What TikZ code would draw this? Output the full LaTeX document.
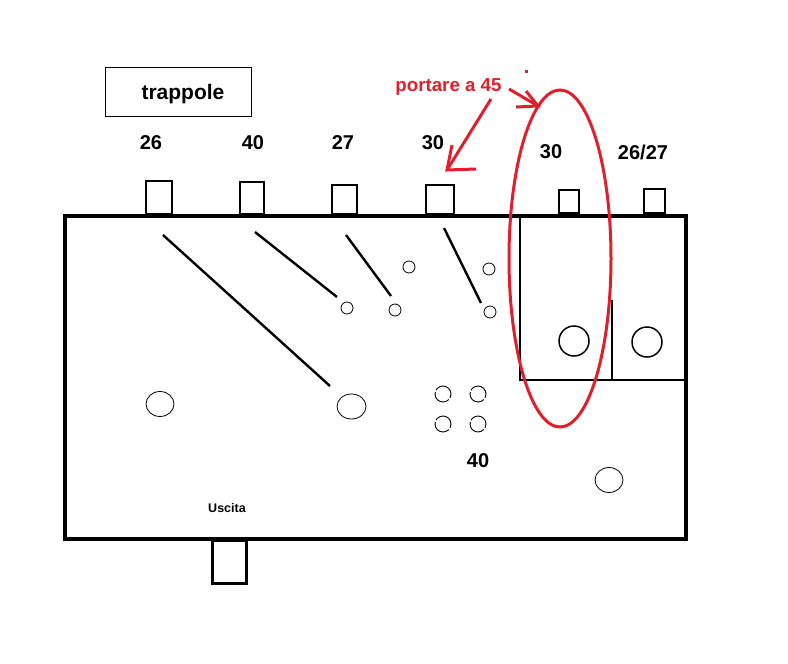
\documentclass[tikz,border=0pt]{standalone}
\usepackage{fontspec}
\setmainfont{Liberation Sans}
\usepackage{tikz}
\usetikzlibrary{shapes.geometric}
\definecolor{redmark}{RGB}{222,32,44}
\tikzset{
  tabbox/.style={draw, line width=2pt, inner sep=0pt, anchor=south},
  pinhole/.style={draw, circle, line width=0.8pt, inner sep=0pt, minimum size=12pt},
  hole/.style={draw, ellipse, line width=0.8pt, inner sep=0pt, minimum width=28pt, minimum height=25pt},
  socket/.style={draw, circle, line width=1.5pt, inner sep=0pt, minimum size=30pt},
  tube/.style={draw, circle, line width=0.9pt, dash pattern=on 21pt off 2pt, inner sep=0pt, minimum size=16pt},
  valtext/.style={font=\bfseries\fontsize{20}{20}\selectfont, inner sep=0pt},
  wire/.style={line width=2.4pt},
  redline/.style={draw=redmark, line width=3pt},
}
\begin{document}
\begin{tikzpicture}[x=1pt, y=-1pt]
      \useasboundingbox (0, 0) rectangle (788, 664);
      \node[draw, line width=4pt, inner sep=0pt, minimum width=621pt, minimum height=323pt] (chassis) at (375.5, 377.5) {};
      \node[draw, line width=1pt, inner sep=0pt, minimum width=146pt, minimum height=49pt] (legend) at (178, 91.5) {};
      \node[valtext, font=\bfseries\fontsize{21}{21}\selectfont] (trappole) at (183, 94) {trappole};
      % tabs on top
      \node[tabbox, minimum width=26pt, minimum height=33pt] (tab1) at (159, 215) {};
      \node[tabbox, minimum width=24pt, minimum height=32pt] (tab2) at (252, 215) {};
      \node[tabbox, minimum width=25pt, minimum height=29pt] (tab3) at (344.5, 215) {};
      \node[tabbox, minimum width=28pt, minimum height=29pt] (tab4) at (440, 215) {};
      \node[tabbox, minimum width=20pt, minimum height=23pt] (tab5) at (569, 214) {};
      \node[tabbox, minimum width=21pt, minimum height=24pt] (tab6) at (654.5, 214) {};
      \node[draw, line width=3pt, inner sep=0pt, minimum width=34pt, minimum height=43pt] (uscitabox) at (229, 562) {};
      \node[valtext] (val1) at (151, 143) {26};
      \node[valtext] (val2) at (253, 143) {40};
      \node[valtext] (val3) at (343, 143) {27};
      \node[valtext] (val4) at (433, 143) {30};
      \node[valtext] (val5) at (551, 152) {30};
      \node[valtext] (val6) at (643, 152) {26/27};
      \node[valtext] (val7) at (478, 461) {40};
      \node[font=\bfseries\fontsize{12.5}{12.5}\selectfont, inner sep=0pt] (uscita) at (227, 508) {Uscita};
      % holes
      \node[pinhole] (pin1) at (347, 308) {};
      \node[pinhole] (pin2) at (395, 310) {};
      \node[pinhole] (pin3) at (409, 267) {};
      \node[pinhole] (pin4) at (489, 269) {};
      \node[pinhole] (pin5) at (490, 312) {};
      \node[socket] (socket1) at (574, 341) {};
      \node[socket] (socket2) at (647, 342) {};
      \node[hole] (hole1) at (160, 404) {};
      \node[hole, minimum width=29pt] (hole2) at (351.5, 406.5) {};
      \node[hole] (hole3) at (609, 480) {};
      \node[tube] (tube1) at (443, 394) {};
      \node[tube] (tube2) at (478, 394) {};
      \node[tube] (tube3) at (443, 424) {};
      \node[tube] (tube4) at (478, 424) {};
      % diagonal wires
      \coordinate (w1a) at (163, 235);
      \coordinate (w1b) at (330, 386);
      \coordinate (w2a) at (255, 232);
      \coordinate (w2b) at (337, 297);
      \coordinate (w3a) at (346, 235);
      \coordinate (w3b) at (391, 296);
      \coordinate (w4a) at (444, 228);
      \coordinate (w4b) at (481, 303);
      \draw[wire] (w1a) -- (w1b);
      \draw[wire] (w2a) -- (w2b);
      \draw[wire] (w3a) -- (w3b);
      \draw[wire] (w4a) -- (w4b);
      % inner walls
      \coordinate (c1) at (520, 215);
      \coordinate (c2) at (520, 380);
      \coordinate (c3) at (686, 380);
      \coordinate (c4) at (612, 300);
      \coordinate (c5) at (612, 380);
      \draw[wire] (c1) -- (c2) -- (c3);
      \draw[wire] (c4) -- (c5);
      % red marks
      \node[draw=redmark, line width=3pt, ellipse, inner sep=0pt, minimum width=102pt, minimum height=337pt] (oval) at (560, 258.5) {};
      \node[font=\bfseries\fontsize{18.7}{18.7}\selectfont, text=redmark, inner sep=0pt] (portare) at (448.5, 87) {portare a 45};
      \coordinate (a1) at (491, 99);
      \coordinate (a2) at (447, 170);
      \coordinate (a3) at (452, 145);
      \coordinate (a4) at (476, 169);
      \coordinate (b1) at (509, 89);
      \coordinate (b2) at (538, 106);
      \coordinate (b3) at (526, 91);
      \coordinate (b4) at (516, 107);
      \draw[redline] (a1) -- (a2);
      \draw[redline] (a3) -- (a2) -- (a4);
      \draw[redline] (b1) -- (b2);
      \draw[redline] (b3) -- (b2) -- (b4);
      \fill[redmark] (525, 69.5) rectangle (527.5, 72.5);
    \end{tikzpicture}
\end{document}
